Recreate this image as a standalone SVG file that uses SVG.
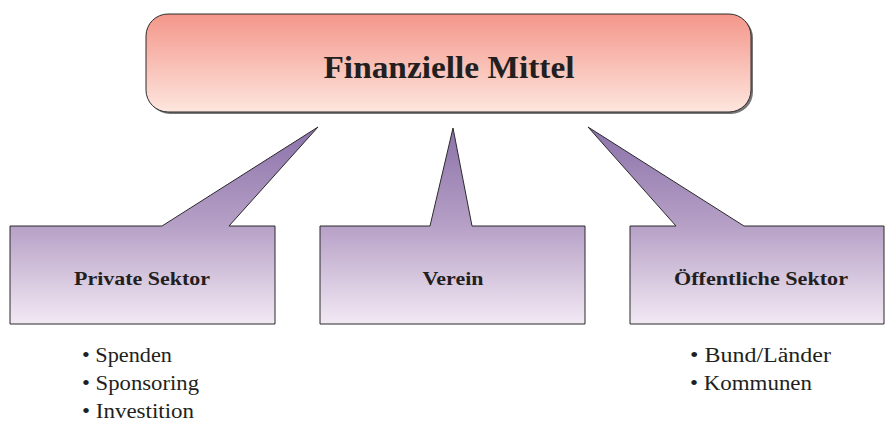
<svg xmlns="http://www.w3.org/2000/svg" width="885" height="422" viewBox="0 0 885 422">
<defs>
<linearGradient id="red" x1="0" y1="14" x2="0" y2="112" gradientUnits="userSpaceOnUse">
<stop offset="0" stop-color="#f4968a"/>
<stop offset="1" stop-color="#fde6de"/>
</linearGradient>
<linearGradient id="purple" x1="0" y1="127" x2="0" y2="324" gradientUnits="userSpaceOnUse">
<stop offset="0" stop-color="#8c72aa"/>
<stop offset="0.5" stop-color="#b6a0c6"/>
<stop offset="1" stop-color="#f2e9f4"/>
</linearGradient>
</defs>
<style>
.box{stroke:#2b2b2b;stroke-width:1;}
.lbl{font-family:"Liberation Serif",serif;font-weight:bold;fill:#231f20;text-anchor:middle;}
.item{font-family:"Liberation Serif",serif;font-size:20px;fill:#231f20;}
</style>
<g id="top">
<rect x="148" y="16" width="605" height="98" rx="22" fill="#777"/>
<rect x="146" y="14" width="605" height="98" rx="22" class="box" fill="url(#red)"/>
<text x="449" y="78" class="lbl" font-size="31" textLength="251" lengthAdjust="spacingAndGlyphs">Finanzielle Mittel</text>
</g>
<g id="connectors"></g>
<g id="private">
<path d="M10,226 H162 L318,127 L229,226 H275 V324 H10 Z" class="box" fill="url(#purple)"/>
<text x="142" y="285" class="lbl" font-size="19" textLength="136" lengthAdjust="spacingAndGlyphs">Private Sektor</text>
<text x="82" y="362" class="item" textLength="90" lengthAdjust="spacingAndGlyphs">• Spenden</text>
<text x="82" y="390" class="item" textLength="117" lengthAdjust="spacingAndGlyphs">• Sponsoring</text>
<text x="82" y="418" class="item" textLength="112" lengthAdjust="spacingAndGlyphs">• Investition</text>
</g>
<g id="verein">
<path d="M320,226 H430 L453,128 L472,226 H585 V324 H320 Z" class="box" fill="url(#purple)"/>
<text x="453" y="285" class="lbl" font-size="19" textLength="61" lengthAdjust="spacingAndGlyphs">Verein</text>
</g>
<g id="oeffentlich">
<path d="M630,226 H676 L588,127 L744,226 H884 V324 H630 Z" class="box" fill="url(#purple)"/>
<text x="761" y="285" class="lbl" font-size="19" textLength="174" lengthAdjust="spacingAndGlyphs">Öffentliche Sektor</text>
<text x="690" y="362" class="item" textLength="141" lengthAdjust="spacingAndGlyphs">• Bund/Länder</text>
<text x="690" y="390" class="item" textLength="122" lengthAdjust="spacingAndGlyphs">• Kommunen</text>
</g>
</svg>
